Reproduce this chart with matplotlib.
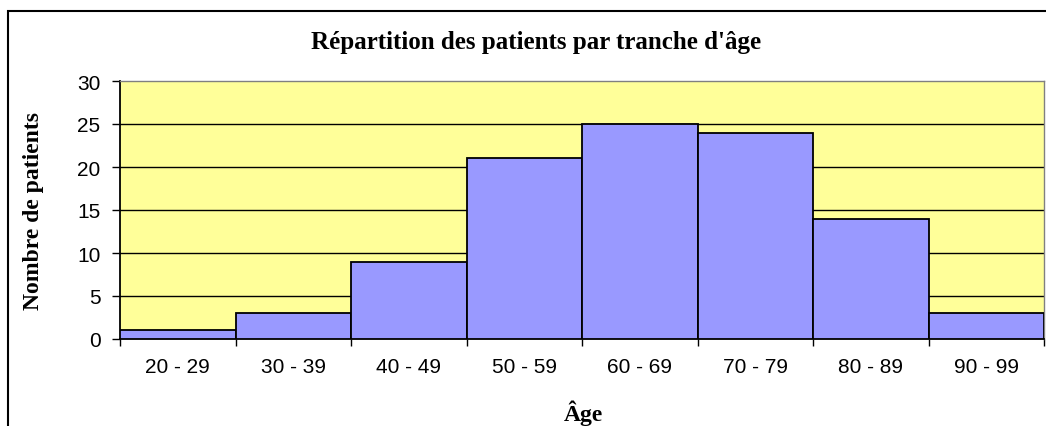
import matplotlib
matplotlib.use("Agg")
import matplotlib.pyplot as plt
import matplotlib.patches as patches
import numpy as np

# data
tranches = ["20 - 29", "30 - 39", "40 - 49", "50 - 59", "60 - 69", "70 - 79", "80 - 89", "90 - 99"]
patients = [1, 3, 9, 21, 25, 24, 14, 3]
yticks = [0, 5, 10, 15, 20, 25, 30]

serif = ["Liberation Serif", "DejaVu Serif"]
sans = ["Liberation Sans", "DejaVu Sans"]

fig = plt.figure(figsize=(10.46, 4.27), dpi=100)
ax = fig.add_axes([120 / 1046, 87 / 427, 924 / 1046, 258 / 427])

ax.set_facecolor("#FFFF99")
x = np.arange(len(tranches))
ax.bar(x, patients, width=1.0, align="center", color="#9999FF",
       edgecolor="black", linewidth=1.3, zorder=3)

ax.set_xlim(-0.5, len(tranches) - 0.5)
ax.set_ylim(0, 30)
ax.set_yticks(yticks)
ax.set_yticklabels([str(v) for v in yticks], fontsize=15, family=sans)
for v in yticks[1:-1]:
    ax.axhline(v, color="black", linewidth=1.0, zorder=1)

# boundaries as major ticks, labels on minor ticks at bar centres
ax.set_xticks(np.arange(len(tranches) + 1) - 0.5)
ax.set_xticklabels([])
ax.set_xticks(x, minor=True)
ax.set_xticklabels(tranches, minor=True, fontsize=15, family=sans)
ax.tick_params(axis="x", which="major", direction="out", length=5, width=1.0)
ax.tick_params(axis="x", which="minor", length=0, pad=13)
ax.tick_params(axis="y", direction="out", length=6, width=1.0, pad=8)

for s in ["left", "bottom"]:
    ax.spines[s].set_color("black")
    ax.spines[s].set_linewidth(1.3)
for s in ["top", "right"]:
    ax.spines[s].set_color("#808080")
    ax.spines[s].set_linewidth(1.0)

fig.text(536 / 1046, 1 - 42 / 427, "Répartition des patients par tranche d'âge",
         ha="center", va="center", fontsize=18, fontweight="bold", family=serif)
fig.text(34 / 1046, 1 - 211 / 427, "Nombre de patients", rotation=90,
         ha="center", va="center", fontsize=17, fontweight="bold", family=serif)
fig.text(583 / 1046, 1 - 413 / 427, "Âge",
         ha="center", va="center", fontsize=17, fontweight="bold", family=serif)

# chart area border (cropped at right and bottom)
border = patches.Rectangle((8 / 1046, -0.05), 1.1, 1 - 12 / 427 + 0.05,
                           transform=fig.transFigure, fill=False,
                           edgecolor="black", linewidth=1.5, clip_on=False)
fig.patches.append(border)

fig.savefig("out.png", dpi=100)
